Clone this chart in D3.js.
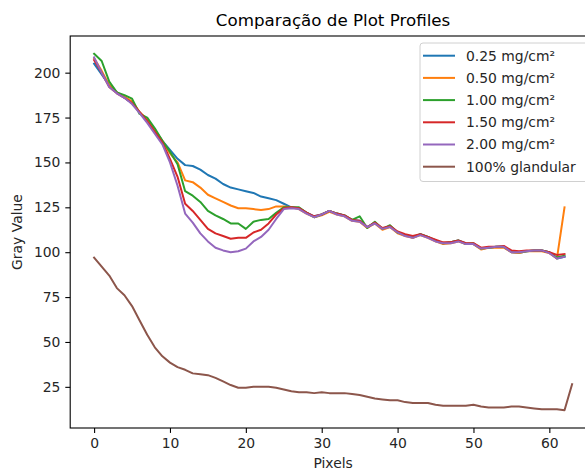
<!DOCTYPE html>
<html>
<head>
<meta charset="utf-8">
<script src="https://cdn.jsdelivr.net/npm/d3@7"></script>
<style>
    body { margin: 0; background: #fff; }
    svg { display: block; font-family: 'DejaVu Sans', sans-serif; }
</style>
</head>
<body>
<div id="chart"></div>
<script>
// gray value profiles (one value per pixel)
var labels = ['0.25 mg/cm²', '0.50 mg/cm²', '1.00 mg/cm²', '1.50 mg/cm²', '2.00 mg/cm²', '100% glandular'];
var colors = ['#1f77b4', '#ff7f0e', '#2ca02c', '#d62728', '#9467bd', '#8c564b'];

var p025 = [205,199,193,189,186,183,178,173,168,162,157,152,148.5,148,146,143,141,138,136,135,134,133,131,130,129,127,125,124.5,122,120,121,123,121.5,120.5,118,117.5,114,116.5,113,114.5,111,109.5,108,110,108.5,106.5,105,105.5,106.5,105,104.5,102,102.5,103,103,100,99.5,100.5,101,101,100,96.5,97.5];
var p050 = [208,201,193,189,186.5,184,178,174,168,162,155,150,140,139,136,132,130,128,126,124.5,124.5,124,123.5,124,125.5,125.5,125,124,121.5,119.5,120.5,122.5,121,120,117.5,117,113.5,116,112.5,114,110.5,109,108,109.5,108,106,104.5,105,106,104.5,104.5,101.5,102.5,102.5,102.5,100,99.5,100.5,100.5,100.5,99.5,96.5,125];
var p100 = [210.5,206.5,195,189,187.5,185.5,177,175,169,162,156,149,134,131.5,128,123,120.5,118.5,116,116,113,117,118,118.5,122,125,125,125,122,119.5,121,123,121.5,120.5,118,120,113.5,117,113,115,111,109.5,108.5,110,108.5,106.5,105,105.5,106.5,104.5,105,102,102.5,103,103,100.5,100,100.5,101,101,100,97,98];
var p150 = [207,200,192,188.5,186,183,178,173,167,161,152,142,127,123,118,113,110.5,109,107.5,108,108,111,112.5,116,121,124.5,125,124.5,122,120,121,123,121.5,120.5,118,117.5,114,116.5,113.5,114.5,111.5,110,109,110,108.5,107,105.5,105.5,106.5,105,105,102.5,103,103,103.5,101,100.5,101,101,101,100,98.5,99];
var p200 = [208.5,200,192,188.5,186,182.5,177.5,172,166,160,150,137,121.5,116.5,110.5,106,102.5,101,100,100.5,102,106,108.5,112.5,118.5,124,124.5,124,121.5,119.5,121,123,121,120,117.5,117,114,116,113,114,111,109,108,109.5,108,106,105,105,106,104.5,104.5,102,102.5,103,103,100,100,100.5,101,101,99.5,96.5,97.5];
var glandular = [97,92,87,80,76,70,62,54,47,42,38.5,36,34.5,32.5,32,31.5,30,28,26,24.5,24.5,25,25,25,24.5,23.5,22.5,22,22,21.5,22,21.5,21.5,21.5,21,20.5,19.5,18.5,18,17.5,17.5,16.5,16,16,16,15,14.5,14.5,14.5,14.5,15,14,13.5,13.5,13.5,14,14,13.5,13,12.5,12.5,12.5,12,26.5];

var xTicks = [0, 10, 20, 30, 40, 50, 60];
var yTicks = [25, 50, 75, 100, 125, 150, 175, 200];

var W = 585, H = 470,
    LEFT = 70.2, RIGHT = 596, TOP = 36, BOTTOM = 428;

var series = [p025, p050, p100, p150, p200, glandular];

// matplotlib-like 5% margins round the data
function padded(lo, hi) {
    var m = (hi - lo) * 0.05;
    return [lo - m, hi + m];
}

var maxLen = d3.max(series, s => s.length) - 1,
    allVals = [].concat.apply([], series);

var x = d3.scaleLinear().domain(padded(0, maxLen)).range([LEFT, RIGHT]);
var y = d3.scaleLinear().domain(padded(d3.min(allVals), d3.max(allVals))).range([BOTTOM, TOP]);

var svg = d3.select('#chart').append('svg')
    .attr('width', W)
    .attr('height', H);

svg.append('defs').append('clipPath').attr('id', 'plot')
    .append('rect')
    .attr('x', LEFT).attr('y', TOP)
    .attr('width', RIGHT - LEFT).attr('height', BOTTOM - TOP);

var line = d3.line()
    .x((d, i) => x(i))
    .y(d => y(d));

svg.append('g')
    .attr('clip-path', 'url(#plot)')
    .selectAll('path')
    .data(series)
    .enter().append('path')
    .attr('d', line)
    .attr('fill', 'none')
    .attr('stroke', (d, i) => colors[i])
    .attr('stroke-width', 2)
    .attr('stroke-linejoin', 'round')
    .attr('stroke-linecap', 'square');

// axes
var xAxis = svg.append('g')
    .attr('transform', `translate(0,${BOTTOM})`)
    .call(d3.axisBottom(x).tickValues(xTicks).tickSize(4.9).tickPadding(4.9).tickSizeOuter(0));
var yAxis = svg.append('g')
    .attr('transform', `translate(${LEFT},0)`)
    .call(d3.axisLeft(y).tickValues(yTicks).tickSize(4.9).tickPadding(4.9).tickSizeOuter(0));

[xAxis, yAxis].forEach(a => {
    a.select('.domain').remove();
    a.selectAll('line').attr('stroke', '#000').attr('stroke-width', 1.1);
    a.selectAll('text')
        .attr('fill', '#262626')
        .style('font-size', '13.9px')
        .style('font-family', "'DejaVu Sans', sans-serif");
});

// frame
svg.append('rect')
    .attr('x', LEFT).attr('y', TOP)
    .attr('width', RIGHT - LEFT).attr('height', BOTTOM - TOP)
    .attr('fill', 'none')
    .attr('stroke', '#000')
    .attr('stroke-width', 1.1);

svg.append('text')
    .attr('x', (LEFT + RIGHT) / 2)
    .attr('y', 26)
    .attr('text-anchor', 'middle')
    .style('font-size', '16.7px')
    .attr('fill', '#000')
    .text('Comparação de Plot Profiles');

svg.append('text')
    .attr('x', (LEFT + RIGHT) / 2)
    .attr('y', 468)
    .attr('text-anchor', 'middle')
    .style('font-size', '13.9px')
    .attr('fill', '#262626')
    .text('Pixels');

svg.append('text')
    .attr('transform', `translate(22,${(TOP + BOTTOM) / 2}) rotate(-90)`)
    .attr('text-anchor', 'middle')
    .style('font-size', '13.9px')
    .attr('fill', '#262626')
    .text('Gray Value');

// legend
var legend = svg.append('g').attr('transform', 'translate(420,43)');
legend.append('rect')
    .attr('width', 180).attr('height', 138.5)
    .attr('rx', 3)
    .attr('fill', '#fff').attr('fill-opacity', 0.8)
    .attr('stroke', '#d0d0d0');

var rows = legend.selectAll('g.row')
    .data(labels)
    .enter().append('g')
    .attr('class', 'row')
    .attr('transform', (d, i) => `translate(0,${12.7 + i * 22.2})`);
rows.append('line')
    .attr('x1', 3).attr('x2', 35)
    .attr('stroke', (d, i) => colors[i])
    .attr('stroke-width', 2);
rows.append('text')
    .attr('x', 46)
    .attr('dy', '0.35em')
    .style('font-size', '13.9px')
    .attr('fill', '#262626')
    .text(d => d);
</script>
</body>
</html>
